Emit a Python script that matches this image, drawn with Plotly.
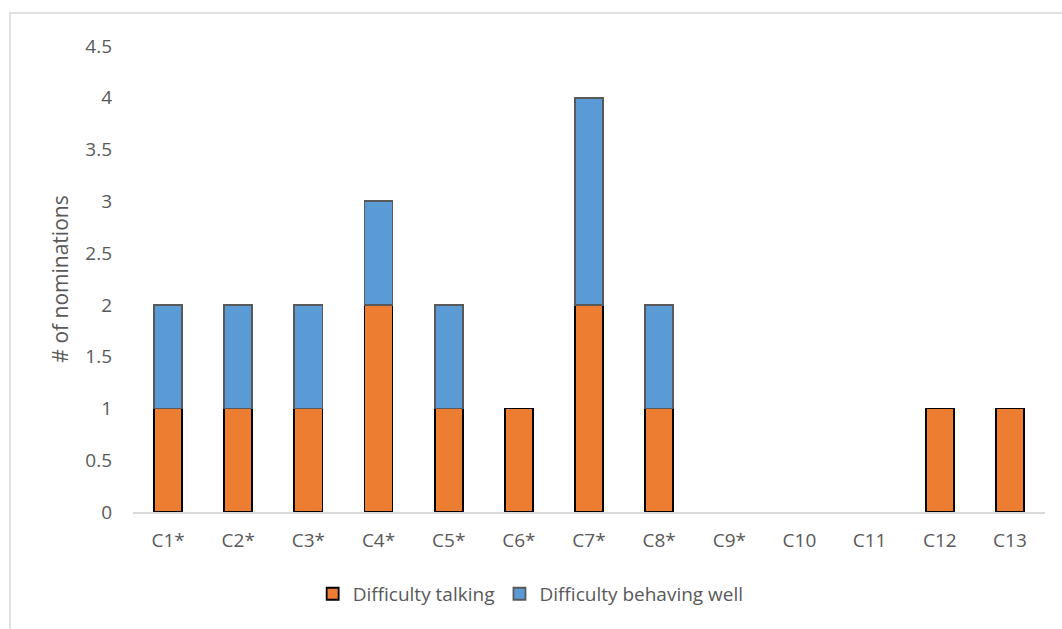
import plotly.graph_objects as go

categories = ["C1*", "C2*", "C3*", "C4*", "C5*", "C6*", "C7*", "C8*", "C9*", "C10", "C11", "C12", "C13"]
talking = [1, 1, 1, 2, 1, 1, 2, 1, 0, 0, 0, 1, 1]
behaving = [1, 1, 1, 1, 1, 0, 2, 1, 0, 0, 0, 0, 0]
y_ticks = [0, 0.5, 1, 1.5, 2, 2.5, 3, 3.5, 4, 4.5]

TEXT = "#595959"
FONT = "Open Sans"
SIZE = 19


def drawn(values):
    # empty segments are left out so they leave no outline on the axis
    return [v if v else None for v in values]


fig = go.Figure()
fig.add_trace(go.Bar(
    x=categories, y=drawn(talking), name="Difficulty talking",
    marker=dict(color="#ED7D31", line=dict(color="#000000", width=1.8)),
))
fig.add_trace(go.Bar(
    x=categories, y=drawn(behaving), name="Difficulty behaving well",
    marker=dict(color="#5B9BD5", line=dict(color="#595959", width=1.8)),
))

# outer chart frame
fig.add_shape(type="rect", xref="paper", yref="paper",
              x0=-0.1349, x1=1.2, y0=-0.5, y1=1.0708,
              line=dict(color="#D9D9D9", width=1.5), layer="below")

fig.update_layout(
    barmode="stack",
    bargap=0.6,
    width=1062, height=629,
    margin=dict(l=133, r=17, t=46, b=117),
    paper_bgcolor="white", plot_bgcolor="white",
    font=dict(family=FONT, size=SIZE, color=TEXT),
    showlegend=True,
    legend=dict(orientation="h", x=0.197, y=-0.135, xanchor="left", yanchor="top",
                itemwidth=30, font=dict(size=SIZE, color=TEXT), traceorder="normal"),
    xaxis=dict(showline=True, linecolor="#D9D9D9", linewidth=1.5, showgrid=False,
               ticks="", ticklabelstandoff=10, tickfont=dict(size=SIZE, color=TEXT)),
    yaxis=dict(range=[0, 4.5], tickvals=y_ticks, ticktext=[f"{v:g}" for v in y_ticks],
               showgrid=False, zeroline=False, showline=False,
               ticklabelstandoff=20,
               tickfont=dict(size=SIZE, color=TEXT),
               title=dict(text="# of nominations", font=dict(size=21, color=TEXT), standoff=10)),
)

fig.write_html("out.html")
